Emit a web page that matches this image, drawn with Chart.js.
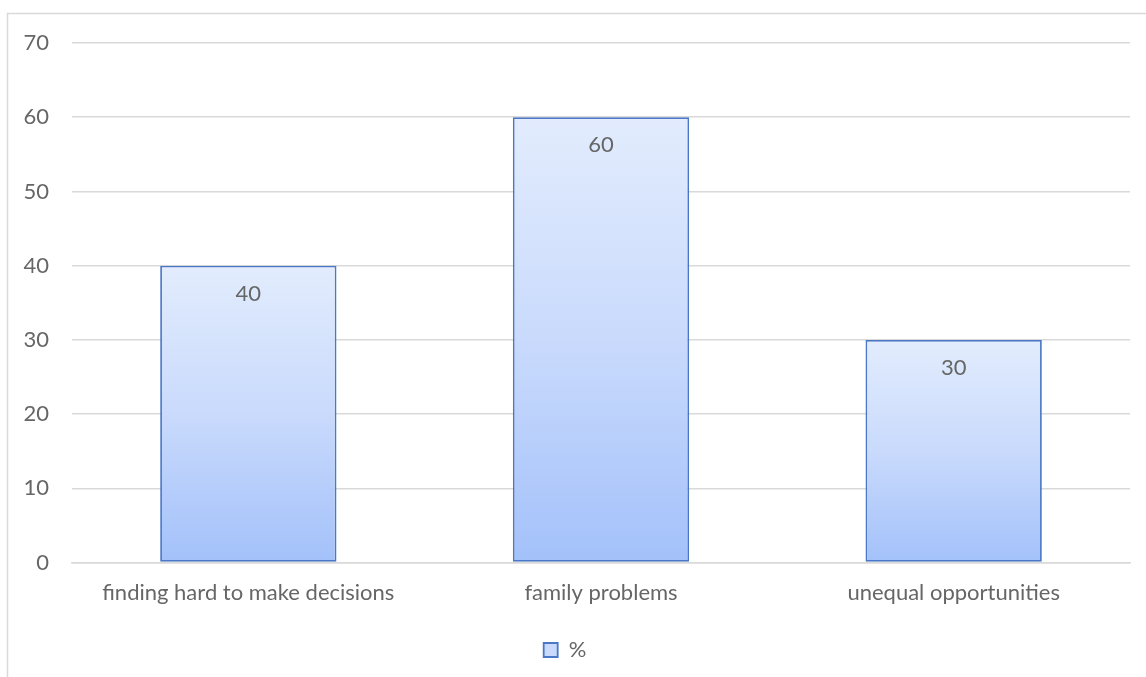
<!DOCTYPE html>
<html lang="en">
<head>
	<meta charset="utf-8">
	<title>Bar chart</title>
	<script src="https://cdn.jsdelivr.net/npm/chart.js@4.4.1/dist/chart.umd.min.js"></script>
	<style>
		html, body { margin: 0; padding: 0; background: #fff; }
		#wrap { position: relative; width: 1146px; height: 677px; }
	</style>
</head>
<body>
	<div id="wrap"><canvas id="barChart"></canvas></div>
	<script>
    var categories = ["finding hard to make decisions", "family problems", "unequal opportunities"];
    var values = [40, 60, 30];
    var seriesName = "%";
    var yTicks = [0, 10, 20, 30, 40, 50, 60, 70];

    var textColor = "#666666";
    var gridColor = "#d9d9d9";
    var fontFamily = "Lato, 'Open Sans', sans-serif";
    var fontSize = 22;

    // vertical gradient per bar: light at top, darker at base
    function barFill(ctx) {
    	var chart = ctx.chart;
    	if (!chart.chartArea || ctx.type !== "data") return "#c5d8fb";
    	var y = chart.scales.y;
    	var top = y.getPixelForValue(ctx.raw);
    	var base = y.getPixelForValue(0);
    	var g = chart.ctx.createLinearGradient(0, top, 0, base);
    	g.addColorStop(0, "#e2ecfd");
    	g.addColorStop(0.5, "#c9dafc");
    	g.addColorStop(1, "#a3c1fa");
    	return g;
    }

    var framePlugin = {
    	id: "frame",
    	beforeDraw: function (chart) {
    		var c = chart.ctx;
    		c.save();
    		c.strokeStyle = gridColor;
    		c.lineWidth = 1.5;
    		c.beginPath();
    		c.moveTo(7.5, 677);
    		c.lineTo(7.5, 13.5);
    		c.lineTo(1146, 13.5);
    		c.stroke();
    		c.restore();
    	}
    };

    var valueLabels = {
    	id: "valueLabels",
    	afterDatasetsDraw: function (chart) {
    		var c = chart.ctx;
    		var meta = chart.getDatasetMeta(0);
    		c.save();
    		c.fillStyle = textColor;
    		c.font = fontSize + "px " + fontFamily;
    		c.textAlign = "center";
    		c.textBaseline = "middle";
    		meta.data.forEach(function (bar, i) {
    			c.fillText(values[i], bar.x, bar.y + 28);
    		});
    		c.restore();
    	}
    };

    new Chart(document.getElementById("barChart"), {
    	type: "bar",
    	data: {
    		labels: categories,
    		datasets: [{
    			label: seriesName,
    			data: values,
    			backgroundColor: barFill,
    			borderColor: "#4a78c6",
    			borderWidth: 1.8,
    			borderSkipped: false,
    			categoryPercentage: 1,
    			barPercentage: 0.5
    		}]
    	},
    	options: {
    		responsive: true,
    		maintainAspectRatio: false,
    		animation: false,
    		layout: { padding: { top: 43, right: 16, bottom: 6, left: 0 } },
    		scales: {
    			x: {
    				grid: { display: false },
    				border: { color: gridColor, width: 1.5 },
    				ticks: { color: textColor, font: { family: fontFamily, size: fontSize }, padding: 9, maxRotation: 0 },
    				afterFit: function (axis) { axis.height += 9; }
    			},
    			y: {
    				min: 0,
    				max: 70,
    				afterBuildTicks: function (axis) {
    					axis.ticks = yTicks.map(function (v) { return { value: v }; });
    				},
    				afterFit: function (axis) { axis.width = 72; },
    				grid: { color: gridColor, lineWidth: 1.5, drawTicks: false },
    				border: { display: false },
    				ticks: { color: textColor, font: { family: fontFamily, size: fontSize }, padding: 23 }
    			}
    		},
    		plugins: {
    			legend: {
    				position: "bottom",
    				labels: {
    					color: textColor,
    					font: { family: fontFamily, size: fontSize },
    					boxWidth: 14,
    					boxHeight: 14,
    					padding: 15,
    					generateLabels: function () {
    						return [{
    							text: seriesName,
    							fillStyle: "#c9dafc",
    							strokeStyle: "#4a78c6",
    							lineWidth: 1.8,
    							fontColor: textColor,
    							datasetIndex: 0
    						}];
    					}
    				}
    			},
    			tooltip: { enabled: false }
    		}
    	},
    	plugins: [framePlugin, valueLabels]
    });
	</script>
</body>
</html>
